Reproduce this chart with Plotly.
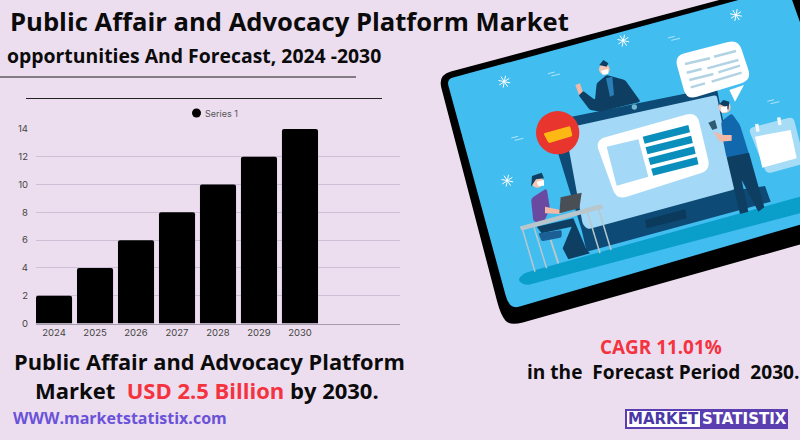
import math
import plotly.graph_objects as go

years = [2024, 2025, 2026, 2027, 2028, 2029, 2030]
values = [2, 4, 6, 8, 10, 12, 14]
series_name = "Series 1"
tick_values = [0, 2, 4, 6, 8, 10, 12, 14]

BG = "#ecdeef"
W, H = 800, 440
FONT = "Open Sans"


def px(x):
    return x / W


def py(y):
    return 1 - y / H


def z(p):
    """zoom-crop coordinates of the illustration to page pixels"""
    return (430 + p[0] / 3, p[1] / 3)


def path_of(points, r=0):
    pts = [z(p) for p in points]
    r = r / 3
    n = len(pts)
    if r == 0:
        s = "M " + " L ".join(f"{px(a):.5f},{py(b):.5f}" for a, b in pts) + " Z"
        return s
    parts = []
    for i in range(n):
        a, b, c = pts[i - 1], pts[i], pts[(i + 1) % n]
        d1 = math.hypot(a[0] - b[0], a[1] - b[1])
        d2 = math.hypot(c[0] - b[0], c[1] - b[1])
        q1 = (b[0] + (a[0] - b[0]) * min(r, d1 / 2) / d1, b[1] + (a[1] - b[1]) * min(r, d1 / 2) / d1)
        q2 = (b[0] + (c[0] - b[0]) * min(r, d2 / 2) / d2, b[1] + (c[1] - b[1]) * min(r, d2 / 2) / d2)
        parts.append(("M " if i == 0 else "L ") + f"{px(q1[0]):.5f},{py(q1[1]):.5f}")
        parts.append(f"Q {px(b[0]):.5f},{py(b[1]):.5f} {px(q2[0]):.5f},{py(q2[1]):.5f}")
    return " ".join(parts) + " Z"


shapes = []


def poly(points, fill, r=0):
    shapes.append(dict(type="path", xref="paper", yref="paper", path=path_of(points, r),
                       fillcolor=fill, line=dict(width=0), layer="above"))


def circle(c, rad, fill):
    x, y = z(c)
    rr = rad / 3
    shapes.append(dict(type="circle", xref="paper", yref="paper",
                       x0=px(x - rr), x1=px(x + rr), y0=py(y + rr), y1=py(y - rr),
                       fillcolor=fill, line=dict(width=0), layer="above"))


def seg(a, b, color, width=1.0):
    p, q = z(a), z(b)
    shapes.append(dict(type="line", xref="paper", yref="paper",
                       x0=px(p[0]), y0=py(p[1]), x1=px(q[0]), y1=py(q[1]),
                       line=dict(color=color, width=width), layer="above"))


def flake(c, rad=18):
    for k in range(4):
        t = k * math.pi / 4 + 0.2
        dx, dy = rad * math.cos(t), rad * math.sin(t)
        seg((c[0] - dx, c[1] - dy), (c[0] + dx, c[1] + dy), "white", 1.0)


def dashes(c):
    seg((c[0] - 18, c[1] - 1), (c[0] + 2, c[1] - 6), "#cfeefb", 0.8)
    seg((c[0] - 8, c[1] + 6), (c[0] + 18, c[1]), "#cfeefb", 0.8)


# Illustration -------------------------------------------------------------
BLUE = "#41bdf0"
NAVY = "#0e3f63"
FRAME = "#0d4a75"
TEAL = "#0a9fcb"
poly([(24, 225), (1130, -70), (1400, 600), (1300, 680), (240, 978), (212, 945)], "#000000", 40)
poly([(50, 238), (1072, -40), (1300, 600), (1244, 635), (250, 925), (232, 905)], BLUE, 20)
poly([(280, 820), (1110, 590), (1300, 540), (1300, 590), (1110, 640), (285, 857), (262, 840)], TEAL, 15)

# monitor
poly([(385, 462), (425, 350), (860, 262), (920, 570), (1005, 558), (1022, 605), (470, 755), (455, 690)], FRAME)
poly([(405, 385), (860, 285), (915, 568), (472, 688), (458, 672)], "#a3d8f6", 8)
circle((613, 321), 8, "#6fb8d2")
poly([(645, 660), (765, 628), (770, 655), (650, 685)], "#0b3a5c")
poly([(495, 420), (800, 335), (842, 510), (560, 600)], "#ffffff", 32)
poly([(530, 440), (625, 418), (655, 530), (560, 557)], "#a3d8f6")
for i in range(4):
    dy = 32 * i
    dx = 8.5 * i
    poly([(638 + dx, 410 + dy), (775 + dx, 375 + dy), (780 + dx, 397 + dy), (644 + dx, 431 + dy)], "#0a8fbc")

# red camera badge
circle((383, 398), 65, "#e8352e")
poly([(340, 400), (420, 378), (428, 408), (356, 430)], "#fdb813", 5)

# top man
poly([(445, 285), (458, 272), (495, 300), (500, 250), (530, 225), (585, 240), (632, 305), (510, 335), (480, 330)], NAVY, 6)
poly([(528, 235), (547, 230), (552, 285), (540, 290)], "#2a7fb8")
circle((523, 208), 16, "#f5c6b5")
poly([(508, 195), (520, 180), (535, 190), (530, 200)], NAVY)
poly([(513, 212), (535, 207), (535, 222), (518, 224)], "#ffffff")
poly([(436, 255), (450, 250), (458, 275), (447, 285)], "#f1b9a6")

# woman at desk
poly([(303, 595), (350, 565), (360, 625), (340, 670), (310, 665)], "#6a4aa0", 8)
circle((322, 545), 18, "#f5c6b5")
poly([(303, 560), (306, 528), (335, 518), (342, 535), (318, 538)], NAVY)
poly([(320, 545), (342, 540), (342, 557), (325, 558)], "#ffffff")
poly([(345, 620), (392, 630), (392, 642), (345, 640)], "#f1b9a6")
poly([(392, 592), (455, 578), (448, 625), (388, 640)], "#4a4f55")
poly([(320, 680), (430, 655), (470, 750), (480, 760), (415, 778), (398, 745), (425, 680), (335, 700)], NAVY)
poly([(325, 700), (395, 690), (395, 712), (335, 724)], "#1c5f94", 5)
seg((362, 720), (385, 790), "#b9c7cc", 2)
poly([(268, 680), (515, 612), (520, 625), (275, 692)], "#b9c7cc", 4)
seg((278, 690), (315, 815), "#b9c7cc", 1.5)
seg((312, 682), (350, 805), "#b9c7cc", 1.5)
seg((472, 635), (510, 760), "#b9c7cc", 1.5)
seg((505, 625), (543, 750), "#b9c7cc", 1.5)

# speech bubble
poly([(733, 168), (925, 118), (965, 240), (770, 300)], "#ffffff", 32)
poly([(898, 270), (942, 255), (915, 305)], "#ffffff")
bubble_lines = [((765, 192), (840, 175)), ((852, 170), (918, 153)), ((770, 218), (815, 207)),
                ((832, 205), (925, 180)), ((778, 240), (850, 222)), ((865, 217), (930, 197)),
                ((782, 262), (825, 250)), ((845, 245), (935, 218))]
for a, b in bubble_lines:
    seg(a, b, "#b1d3e3", 2.5)

# calendar
poly([(955, 385), (1090, 350), (1125, 490), (1010, 522)], "#a6dcf6", 16)
poly([(975, 410), (1082, 390), (1100, 475), (997, 503)], "#ffffff")
seg((980, 372), (984, 395), "#f3f7f9", 3.5)
seg((1046, 352), (1050, 375), "#f3f7f9", 3.5)

# standing man
poly([(873, 365), (905, 340), (930, 375), (958, 465), (890, 475), (880, 425)], "#1268ad", 8)
poly([(890, 472), (957, 458), (1003, 622), (985, 635), (935, 540), (955, 635), (930, 642)], NAVY)
circle((884, 322), 18, "#f5c6b5")
poly([(868, 312), (880, 300), (898, 305), (895, 330), (885, 320)], NAVY)
poly([(872, 322), (892, 318), (892, 335), (875, 338)], "#ffffff")
poly([(850, 395), (880, 405), (905, 405), (905, 422), (870, 425)], "#f1b9a6")
poly([(835, 368), (855, 360), (862, 385), (847, 390)], "#2f5a70")

for c in [(223, 245), (232, 542), (580, 122), (918, 45)]:
    flake(c)
for c in [(372, 222), (262, 415), (732, 115), (1030, 305)]:
    dashes(c)

# Rules -----------------------------------------------------------------------
shapes.append(dict(type="line", xref="paper", yref="paper", x0=px(0), x1=px(356), y0=py(77), y1=py(77),
                   line=dict(color="#1a1a1a", width=1)))
shapes.append(dict(type="line", xref="paper", yref="paper", x0=px(26), x1=px(382), y0=py(98.5), y1=py(98.5),
                   line=dict(color="#222222", width=1.2)))
# Legend marker
shapes.append(dict(type="circle", xref="paper", yref="paper", x0=px(192), x1=px(201), y0=py(117.5), y1=py(108.5),
                   fillcolor="#000000", line=dict(width=0)))
# Logo
shapes.append(dict(type="rect", xref="paper", yref="paper", x0=px(625), x1=px(788), y0=py(429), y1=py(409),
                   fillcolor="#5b3fb0", line=dict(width=0)))
shapes.append(dict(type="rect", xref="paper", yref="paper", x0=px(627), x1=px(700), y0=py(427), y1=py(411),
                   fillcolor="#ffffff", line=dict(width=0)))


def text(x, y, s, size, color="#0b0b0b", bold=True, anchor="left", family=FONT):
    return dict(xref="paper", yref="paper", x=px(x), y=py(y), text=f"<b>{s}</b>" if bold else s,
                showarrow=False, xanchor=anchor, yanchor="middle",
                font=dict(size=size, color=color, family=family), align="left")


annotations = [
    text(8, 21, "Public Affair and Advocacy Platform Market", 25.6),
    text(5, 56, "opportunities And Forecast, 2024 -2030", 19.4),
    text(12, 361, "Public Affair and Advocacy Platform", 21.8),
    text(33, 390, "Market  <span style='color:#f5333f'>USD 2.5 Billion</span> by 2030.", 22),
    text(11, 418, "WWW.marketstatistix.com", 16, color="#6a52d9"),
    text(661, 347, "CAGR 11.01%", 18.9, color="#f5333f", anchor="center"),
    text(525, 372, "in the  Forecast Period  2030.", 19.1),
    text(663.5, 419, "MARKET", 15, color="#4b38a8", anchor="center", family="DejaVu Sans"),
    text(744.5, 419, "STATISTIX", 15, color="#ffffff", anchor="center", family="DejaVu Sans"),
    text(203, 113, series_name, 9, color="#555555", bold=False, family="Inter"),
]

fig = go.Figure()
fig.add_bar(x=years, y=values, width=0.88, name=series_name,
            marker=dict(color="#000000", cornerradius=2, line=dict(width=0)), showlegend=False)
fig.update_layout(
    width=W, height=H, margin=dict(l=0, r=0, t=0, b=0),
    paper_bgcolor=BG, plot_bgcolor=BG, showlegend=False,
    font=dict(family="Inter", size=9.5, color="#444444"),
    xaxis=dict(domain=[px(36), px(400)], range=[2023.56, 2032.44], tickmode="array", tickvals=years,
               ticktext=[str(v) for v in years], showgrid=False, zeroline=False, showline=True, automargin=False,
               linecolor="#a79aae", linewidth=1, ticks="", tickfont=dict(size=9.5, color="#444444")),
    yaxis=dict(domain=[py(323.5), py(129)], range=[0, 14], tickmode="array", tickvals=tick_values, automargin=False,
               gridcolor="#cdbfd6", gridwidth=1, zeroline=False, showline=False, ticks="",
               ticklabelstandoff=7, tickfont=dict(size=9.5, color="#444444")),
    shapes=shapes, annotations=annotations, bargap=0.12,
)
fig.write_html("out.html", post_script="document.body.style.margin='0';", config=dict(displayModeBar=False))
